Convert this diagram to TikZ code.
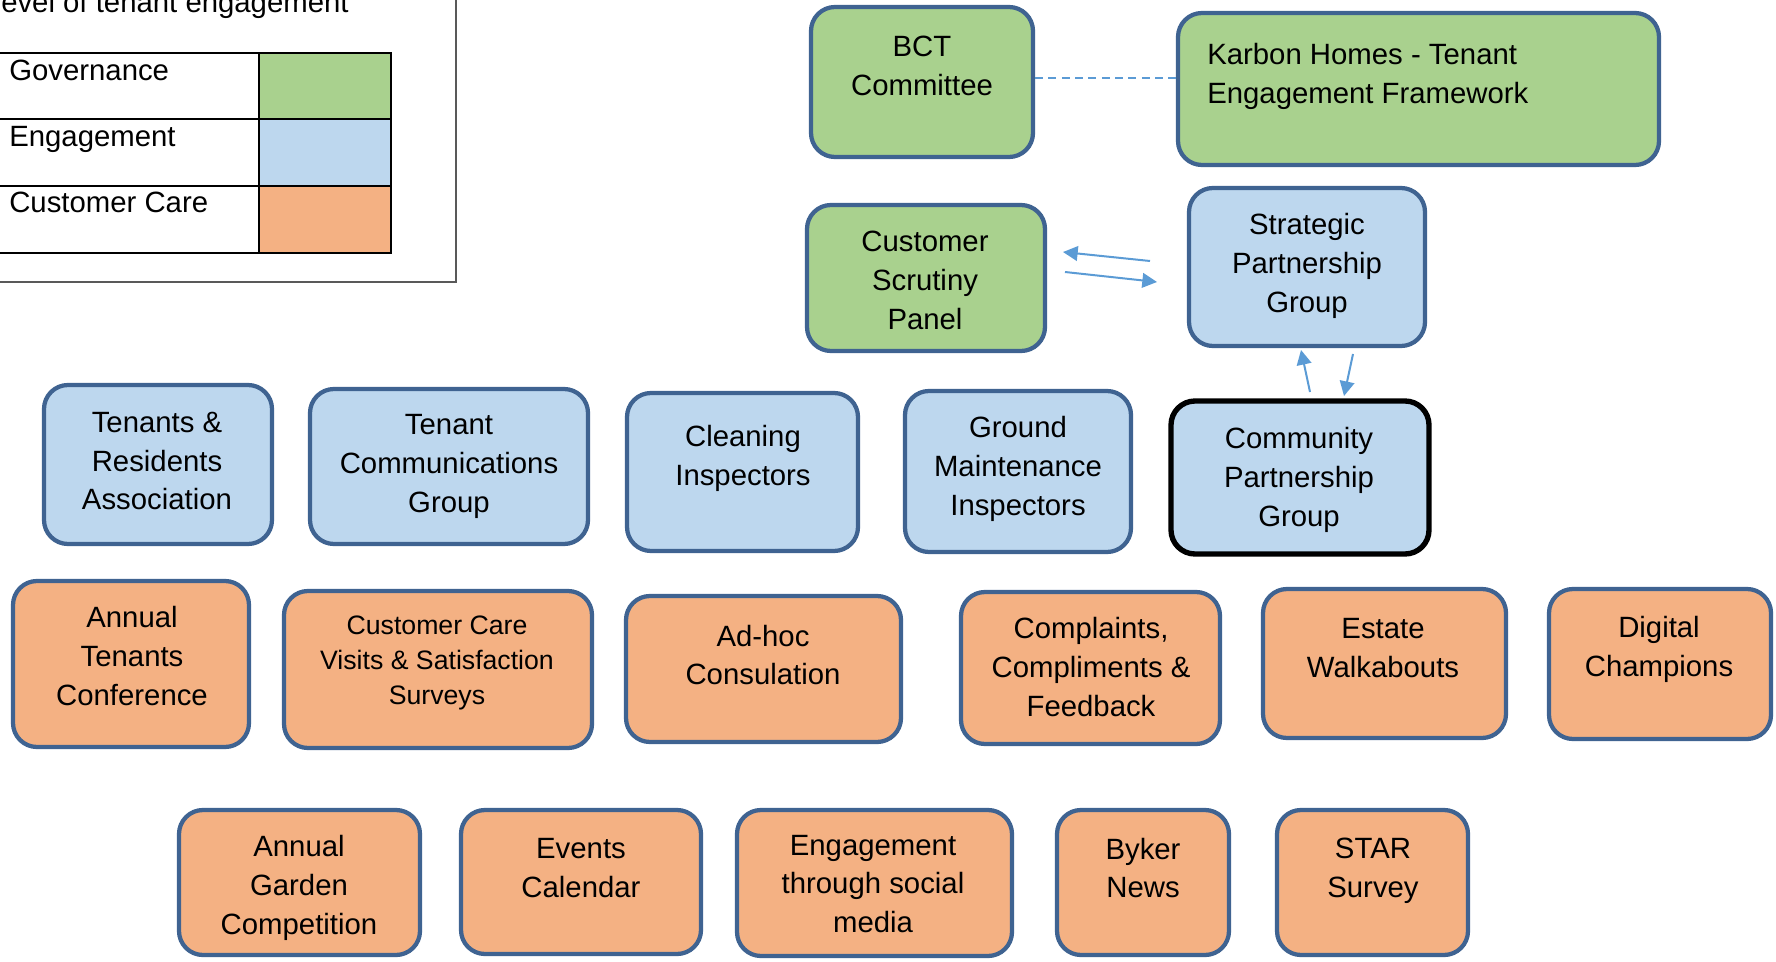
\documentclass[tikz,border=0pt]{standalone}
\usepackage{fontspec}
\setmainfont{Liberation Sans}
\usetikzlibrary{fit,arrows.meta,calc}
\definecolor{gfill}{HTML}{A9D18E}
\definecolor{bfill}{HTML}{BDD7EE}
\definecolor{ofill}{HTML}{F4B183}
\definecolor{edgecol}{HTML}{3F6391}
\definecolor{arrcol}{HTML}{5B9BD5}
\begin{document}
\begin{tikzpicture}[x=0.75pt,y=-0.75pt,
  box/.style={draw=edgecol,line width=3.2pt,rounded corners=18pt,inner sep=0pt},
  gbox/.style={box,fill=gfill},
  bbox/.style={box,fill=bfill},
  obox/.style={box,fill=ofill},
  txt/.style={align=center,font=\fontsize{22}{29.2}\selectfont,inner sep=0pt},
  dsc/.style={yshift=-2pt},
  smalltxt/.style={align=center,font=\fontsize{20}{26.3}\selectfont,inner sep=0pt},
  legtxt/.style={anchor=base west,font=\fontsize{22}{29.2}\selectfont,inner sep=0pt},
  conn/.style={draw=arrcol,line width=1.5pt,-{Triangle[length=11pt,width=11pt]}},
  dashconn/.style={draw=arrcol,line width=1.5pt,dash pattern=on 6pt off 4pt}]
\useasboundingbox (0,0) rectangle (1776,962);

% legend
\draw[draw=black!65,line width=1.1pt] (-10,-10) rectangle (456,282);
\node[legtxt] (title) at (1,13) {evel of tenant engagement};
\fill[gfill] (259,53) rectangle (391,119);
\fill[bfill] (259,119) rectangle (391,186);
\fill[ofill] (259,186) rectangle (391,253);
\draw[line width=2pt] (-10,53) -- (391,53) -- (391,253) -- (-10,253);
\draw[line width=2pt] (-10,119) -- (391,119);
\draw[line width=2pt] (-10,186) -- (391,186);
\draw[line width=2pt] (259,53) -- (259,253);
\node[legtxt] (lg1) at (9,81) {Governance};
\node[legtxt] (lg2) at (9,147) {Engagement};
\node[legtxt] (lg3) at (9,213) {Customer Care};

% governance boxes
\node[gbox,fit={(811,7) (1033,157)}] (bct) {};
\node[txt] (bct-t) at (922,66) {BCT\\Committee};
\node[gbox,fit={(1178,13) (1659,165)}] (karbon) {};
\node[txt,dsc,align=left,anchor=west] (karbon-t) at (1207,74) {Karbon Homes - Tenant\\Engagement Framework};
\node[gbox,fit={(807,205) (1045,351)}] (csp) {};
\node[txt] (csp-t) at (925,280) {Customer\\Scrutiny\\Panel};

% engagement boxes
\node[bbox,fit={(1189,188) (1425,346)}] (spg) {};
\node[txt,dsc] (spg-t) at (1307,263) {Strategic\\Partnership\\Group};
\node[bbox,draw=black,line width=4pt,fit={(1171,401) (1429,554)}] (cpg) {};
\node[txt,dsc] (cpg-t) at (1299,477) {Community\\Partnership\\Group};
\node[bbox,fit={(44,385) (272,544)}] (tra) {};
\node[txt] (tra-t) at (157,461) {Tenants \&\\Residents\\Association};
\node[bbox,fit={(310,389) (588,544)}] (tcg) {};
\node[txt,dsc] (tcg-t) at (449,464) {Tenant\\Communications\\Group};
\node[bbox,fit={(627,393) (858,551)}] (ci) {};
\node[txt,dsc] (ci-t) at (743,456) {Cleaning\\Inspectors};
\node[bbox,fit={(905,391) (1131,552)}] (gmi) {};
\node[txt,dsc] (gmi-t) at (1018,466) {Ground\\Maintenance\\Inspectors};

% customer care boxes
\node[obox,fit={(13,581) (249,747)}] (atc) {};
\node[txt] (atc-t) at (132,656) {Annual\\Tenants\\Conference};
\node[obox,fit={(284,591) (592,748)}] (ccv) {};
\node[smalltxt,dsc] (ccv-t) at (437,660) {Customer Care\\Visits \& Satisfaction\\Surveys};
\node[obox,fit={(626,596) (901,742)}] (adhoc) {};
\node[txt] (adhoc-t) at (763,655) {Ad-hoc\\Consulation};
\node[obox,fit={(961,592) (1220,744)}] (ccf) {};
\node[txt] (ccf-t) at (1091,667) {Complaints,\\Compliments \&\\Feedback};
\node[obox,fit={(1263,589) (1506,738)}] (ew) {};
\node[txt] (ew-t) at (1383,648) {Estate\\Walkabouts};
\node[obox,fit={(1549,589) (1771,739)}] (dc) {};
\node[txt] (dc-t) at (1659,649) {Digital\\Champions};

\node[obox,fit={(179,810) (420,955)}] (agc) {};
\node[txt,dsc] (agc-t) at (299,885) {Annual\\Garden\\Competition};
\node[obox,fit={(461,810) (701,954)}] (ec) {};
\node[txt] (ec-t) at (581,868) {Events\\Calendar};
\node[obox,fit={(737,810) (1012,956)}] (ets) {};
\node[txt] (ets-t) at (873,884) {Engagement\\through social\\media};
\node[obox,fit={(1057,810) (1229,955)}] (bn) {};
\node[txt] (bn-t) at (1143,868) {Byker\\News};
\node[obox,fit={(1277,810) (1468,955)}] (ss) {};
\node[txt,dsc] (ss-t) at (1373,868) {STAR\\Survey};

% connectors
\draw[dashconn] (bct.east |- 0,78) -- (karbon.west |- 0,78);
\coordinate (c1) at (1150,261);
\coordinate (c2) at (1063,252);
\coordinate (c3) at (1065,272);
\coordinate (c4) at (1157,282);
\draw[conn] (c1) -- (c2);
\draw[conn] (c3) -- (c4);
\coordinate (v1) at (1310,392);
\coordinate (v2) at (1301,350);
\coordinate (v3) at (1353,354);
\coordinate (v4) at (1344,396);
\draw[conn] (v1) -- (v2);
\draw[conn] (v3) -- (v4);
\end{tikzpicture}
\end{document}
